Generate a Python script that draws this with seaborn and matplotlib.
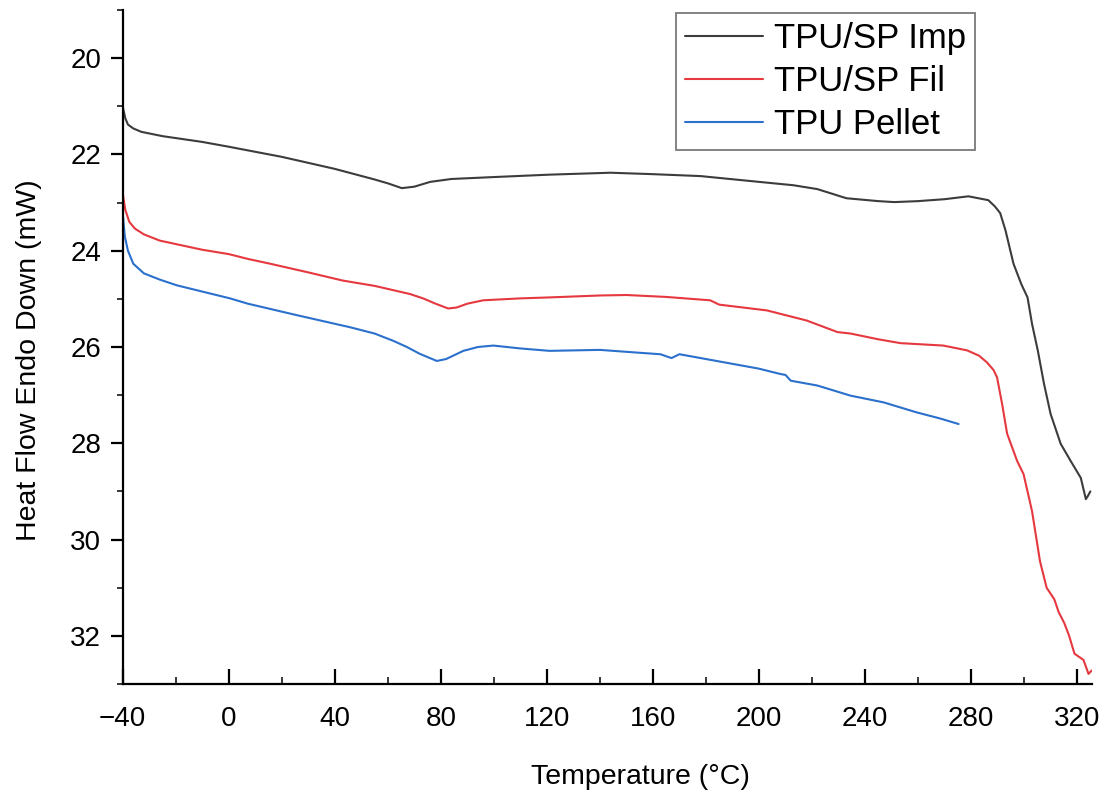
import numpy as np
import pandas as pd
import matplotlib
matplotlib.use("Agg")
import matplotlib.pyplot as plt
import seaborn as sns
from matplotlib.ticker import MultipleLocator

# ---------------- data ----------------
imp_T = [-40, -39, -38, -36, -33, -25, -10, 0, 20, 40, 55, 60, 65.3, 70, 76, 84, 100,
         121, 144, 160, 178, 200, 213, 222, 233, 245, 251, 260, 270, 279, 286.5, 289,
         291, 293, 296, 299, 301.3, 303, 305.2, 307.5, 310, 313.8, 317.6, 321.4,
         323.3, 324, 325]
imp_hf = [21.0, 21.25, 21.38, 21.46, 21.53, 21.62, 21.74, 21.84, 22.05, 22.30, 22.52,
          22.60, 22.70, 22.67, 22.57, 22.51, 22.47, 22.42, 22.38, 22.41, 22.45, 22.57,
          22.64, 22.72, 22.91, 22.97, 22.99, 22.97, 22.93, 22.87, 22.95, 23.08, 23.22,
          23.58, 24.27, 24.70, 24.97, 25.52, 26.08, 26.76, 27.39, 28.01, 28.37, 28.72,
          29.16, 29.10, 29.0]

fil_T = [-40, -39, -37.5, -35.4, -32, -26, -10, 0, 7.2, 15.6, 30, 43, 55, 68.4, 73.3,
         78, 82.8, 86, 90, 96, 110, 121, 140, 150, 165, 181.6, 185, 203, 218, 229.6,
         234.5, 245, 253.4, 269.5, 278.5, 283, 286, 288.5, 289.8, 291.7, 293.6, 297.4,
         299.8, 303, 306, 308.5, 311.4, 313, 315.2, 317, 319, 322.4, 324.3, 325.5]
fil_hf = [22.8, 23.15, 23.4, 23.54, 23.66, 23.79, 23.98, 24.07, 24.17, 24.27, 24.45,
          24.62, 24.73, 24.9, 24.99, 25.1, 25.2, 25.18, 25.1, 25.03, 24.99, 24.97, 24.93,
          24.92, 24.96, 25.03, 25.12, 25.24, 25.45, 25.69, 25.72, 25.84, 25.92, 25.97,
          26.07, 26.18, 26.32, 26.48, 26.63, 27.18, 27.8, 28.37, 28.64, 29.41, 30.45,
          31.0, 31.24, 31.5, 31.74, 32.0, 32.37, 32.5, 32.79, 32.72]

pel_T = [-40, -39.2, -38, -36, -32, -26, -19.5, 0.5, 7.2, 25, 45.8, 55, 62, 67.2, 72,
         78.5, 82, 88.5, 94, 99.8, 110, 121, 140, 155, 162.8, 167, 170, 190, 200, 208,
         210, 212, 222, 234.5, 247, 259.6, 268, 275.3]
pel_hf = [23.2, 23.7, 24.0, 24.27, 24.47, 24.6, 24.72, 24.99, 25.1, 25.33, 25.59, 25.72,
          25.87, 26.0, 26.14, 26.29, 26.25, 26.08, 26.0, 25.97, 26.03, 26.08, 26.06,
          26.12, 26.15, 26.23, 26.15, 26.35, 26.45, 26.56, 26.58, 26.7, 26.8, 27.01,
          27.15, 27.36, 27.48, 27.6]

labels = ["TPU/SP Imp", "TPU/SP Fil", "TPU Pellet"]
colors = ["#3c3c3c", "#e5383f", "#2a70cc"]

x_ticks = [-40, 0, 40, 80, 120, 160, 200, 240, 280, 320]
y_ticks = [20, 22, 24, 26, 28, 30, 32]

# ---------------- style ----------------
sns.set_style("ticks")
plt.rcParams["font.family"] = ["Liberation Sans", "DejaVu Sans"]
plt.rcParams["text.color"] = "black"
plt.rcParams["axes.labelcolor"] = "black"

fig = plt.figure(figsize=(11.07, 7.94), dpi=100)
ax = fig.add_axes([0.1108, 1 - 684 / 794, (1092 - 122.7) / 1107, (684 - 10) / 794])

frames = []
for T, hf, lab in zip([imp_T, fil_T, pel_T], [imp_hf, fil_hf, pel_hf], labels):
    frames.append(pd.DataFrame({"T": T, "hf": hf, "sample": lab}))
df = pd.concat(frames, ignore_index=True)

sns.lineplot(data=df, x="T", y="hf", hue="sample", hue_order=labels,
             palette=colors, sort=False, estimator=None, linewidth=1.5, ax=ax)

ax.set_xlim(-40, 325.6)
ax.set_ylim(33.0, 19.0)

ax.set_xticks(x_ticks)
ax.set_yticks(y_ticks)
ax.xaxis.set_minor_locator(MultipleLocator(20))
ax.yaxis.set_minor_locator(MultipleLocator(1))

for s in ["top", "right"]:
    ax.spines[s].set_visible(False)
for s in ["left", "bottom"]:
    ax.spines[s].set_linewidth(1.6)
    ax.spines[s].set_color("black")

ax.tick_params(axis="x", which="major", direction="in", length=11, width=1.6,
               labelsize=20, pad=16, colors="black")
ax.tick_params(axis="x", which="minor", direction="in", length=5, width=1.3)
ax.tick_params(axis="y", which="major", direction="out", length=8.5, width=1.6,
               labelsize=20, pad=7, colors="black")
ax.tick_params(axis="y", which="minor", direction="out", length=4, width=1.3)

ax.set_xlabel("Temperature (°C)", fontsize=20.5, labelpad=23)
ax.set_ylabel("Heat Flow Endo Down (mW)", fontsize=20.5, labelpad=20)
ax.xaxis.label.set_x(0.534)
ax.yaxis.label.set_y(0.48)

leg = ax.legend(loc="upper left", bbox_to_anchor=(0.5708, 0.9955), fontsize=25,
                frameon=True, fancybox=False, edgecolor="#7a7a7a", framealpha=1,
                handlelength=2.25, handletextpad=0.29, labelspacing=0.28,
                borderpad=0.27, borderaxespad=0)
leg.get_frame().set_linewidth(1.3)
for line in leg.get_lines():
    line.set_linewidth(1.5)

fig.savefig("out.png", dpi=100)
